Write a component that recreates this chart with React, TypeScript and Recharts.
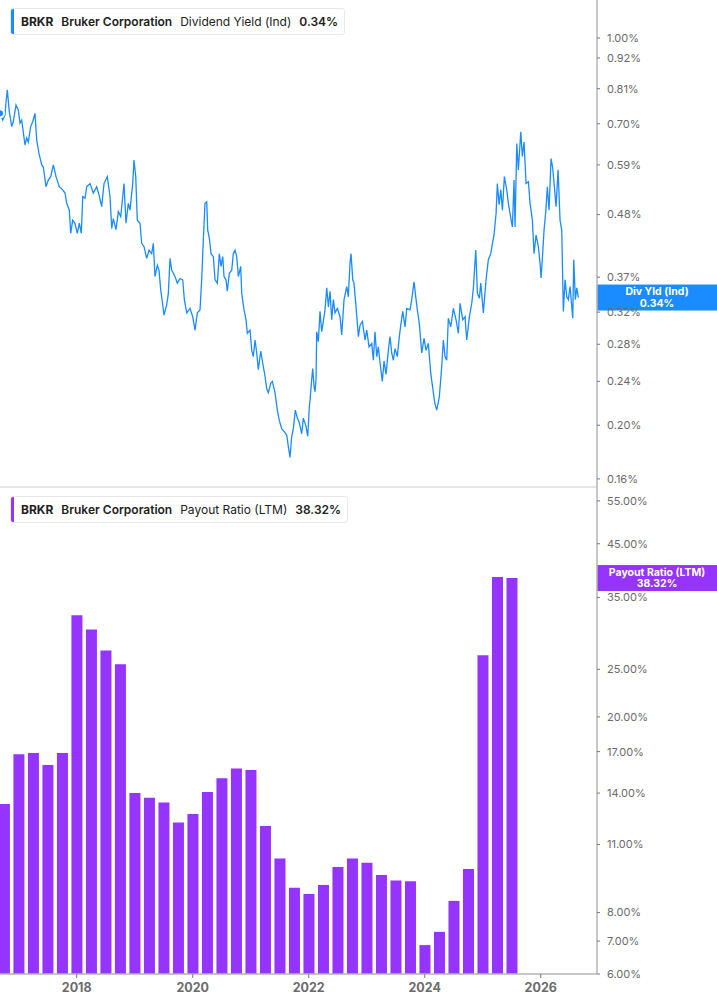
import React from 'react'
import { Bar, BarChart, Line, LineChart, ReferenceLine, XAxis, YAxis } from 'recharts'

const TICKER = 'BRKR'
const COMPANY = 'Bruker Corporation'
const YIELD_NAME = 'Dividend Yield (Ind)'
const YIELD_SHORT = 'Div Yld (Ind)'
const PAYOUT_NAME = 'Payout Ratio (LTM)'

const BLUE = '#1a8cff'
const PURPLE = '#9434fc'

// dividend yield (%) by decimal year
const yield2016to2019: [number, number][] = [
  [2016.678, 0.731], [2016.725, 0.711], [2016.764, 0.726], [2016.781, 0.763], [2016.804, 0.806], [2016.838, 0.736], [2016.88, 0.692], [2016.907, 0.706], [2016.954, 0.757], [2016.994, 0.741],
  [2017.023, 0.702], [2017.052, 0.711], [2017.109, 0.641], [2017.138, 0.66], [2017.166, 0.649], [2017.207, 0.692], [2017.242, 0.706], [2017.281, 0.731], [2017.311, 0.654], [2017.35, 0.619],
  [2017.397, 0.59], [2017.425, 0.585], [2017.471, 0.539], [2017.511, 0.554], [2017.552, 0.562], [2017.597, 0.59], [2017.644, 0.562], [2017.7, 0.539], [2017.759, 0.532], [2017.799, 0.525],
  [2017.828, 0.503], [2017.873, 0.489], [2017.897, 0.444], [2017.931, 0.469], [2017.971, 0.463], [2018.011, 0.444], [2018.045, 0.463], [2018.08, 0.444], [2018.104, 0.517], [2018.144, 0.514],
  [2018.173, 0.539], [2018.23, 0.546], [2018.287, 0.525], [2018.345, 0.539], [2018.385, 0.521], [2018.431, 0.496], [2018.471, 0.546], [2018.528, 0.562], [2018.575, 0.517], [2018.604, 0.453],
  [2018.631, 0.472], [2018.678, 0.451], [2018.718, 0.486], [2018.759, 0.476], [2018.794, 0.517], [2018.816, 0.546], [2018.85, 0.463], [2018.89, 0.503], [2018.919, 0.489], [2018.966, 0.546],
  [2018.988, 0.602], [2019.018, 0.562], [2019.045, 0.469], [2019.092, 0.463], [2019.121, 0.426], [2019.161, 0.42], [2019.207, 0.4], [2019.247, 0.414],
]

const yield2019to2022: [number, number][] = [
  [2019.293, 0.408], [2019.321, 0.426], [2019.35, 0.371], [2019.39, 0.389], [2019.419, 0.381], [2019.449, 0.351], [2019.483, 0.33], [2019.506, 0.316], [2019.552, 0.33], [2019.58, 0.346],
  [2019.609, 0.4], [2019.638, 0.381], [2019.695, 0.371], [2019.735, 0.361], [2019.781, 0.368], [2019.828, 0.366], [2019.856, 0.337], [2019.897, 0.319], [2019.954, 0.325], [2020.0, 0.314],
  [2020.04, 0.297], [2020.08, 0.319], [2020.126, 0.323], [2020.155, 0.366], [2020.183, 0.432], [2020.212, 0.503], [2020.242, 0.506], [2020.259, 0.45], [2020.287, 0.435], [2020.316, 0.408],
  [2020.356, 0.403], [2020.385, 0.366], [2020.425, 0.361], [2020.459, 0.408], [2020.488, 0.387], [2020.518, 0.403], [2020.54, 0.371], [2020.574, 0.366], [2020.597, 0.349], [2020.631, 0.376],
  [2020.673, 0.381], [2020.7, 0.408], [2020.73, 0.414], [2020.759, 0.403], [2020.787, 0.371], [2020.828, 0.387], [2020.845, 0.346], [2020.885, 0.323], [2020.919, 0.31], [2020.942, 0.293],
  [2020.988, 0.297], [2021.018, 0.273], [2021.045, 0.266], [2021.075, 0.285], [2021.104, 0.27], [2021.131, 0.252], [2021.173, 0.272], [2021.207, 0.259], [2021.247, 0.245], [2021.276, 0.233],
  [2021.304, 0.229], [2021.345, 0.238], [2021.373, 0.24], [2021.419, 0.229], [2021.459, 0.213], [2021.493, 0.204], [2021.535, 0.197], [2021.575, 0.195], [2021.621, 0.192], [2021.649, 0.183],
  [2021.678, 0.175], [2021.707, 0.191], [2021.735, 0.197], [2021.769, 0.213], [2021.804, 0.206], [2021.838, 0.202], [2021.88, 0.193], [2021.907, 0.206], [2021.954, 0.199], [2021.983, 0.191],
]

const yield2022to2024: [number, number][] = [
  [2022.011, 0.216], [2022.023, 0.222], [2022.052, 0.242], [2022.069, 0.253], [2022.092, 0.235], [2022.109, 0.23], [2022.126, 0.242], [2022.138, 0.295], [2022.166, 0.283], [2022.195, 0.321],
  [2022.224, 0.295], [2022.252, 0.308], [2022.281, 0.323], [2022.311, 0.354], [2022.339, 0.327], [2022.368, 0.349], [2022.397, 0.31], [2022.425, 0.337], [2022.454, 0.319], [2022.494, 0.325],
  [2022.54, 0.314], [2022.569, 0.291], [2022.609, 0.337], [2022.656, 0.356], [2022.683, 0.341], [2022.712, 0.392], [2022.73, 0.408], [2022.759, 0.366], [2022.781, 0.361], [2022.816, 0.327],
  [2022.856, 0.289], [2022.885, 0.303], [2022.925, 0.308], [2022.971, 0.285], [2023.0, 0.297], [2023.04, 0.277], [2023.087, 0.281], [2023.114, 0.262], [2023.143, 0.295], [2023.173, 0.266],
  [2023.2, 0.277], [2023.23, 0.259], [2023.269, 0.24], [2023.299, 0.261], [2023.333, 0.247], [2023.373, 0.273], [2023.402, 0.289], [2023.431, 0.27], [2023.459, 0.262], [2023.488, 0.275],
  [2023.528, 0.266], [2023.562, 0.289], [2023.587, 0.303], [2023.621, 0.321], [2023.661, 0.301], [2023.69, 0.325], [2023.747, 0.323], [2023.776, 0.337], [2023.816, 0.363], [2023.845, 0.341],
  [2023.873, 0.323], [2023.907, 0.305], [2023.949, 0.27], [2023.988, 0.287], [2024.023, 0.273], [2024.062, 0.281], [2024.104, 0.248], [2024.149, 0.229], [2024.178, 0.218], [2024.207, 0.213],
  [2024.252, 0.225], [2024.293, 0.255], [2024.321, 0.285], [2024.35, 0.266], [2024.379, 0.262], [2024.407, 0.312],
]

const yield2024to2026: [number, number][] = [
  [2024.449, 0.301], [2024.494, 0.325], [2024.54, 0.31], [2024.58, 0.293], [2024.609, 0.332], [2024.656, 0.31], [2024.695, 0.314], [2024.724, 0.285], [2024.77, 0.314], [2024.811, 0.332],
  [2024.839, 0.354], [2024.88, 0.414], [2024.908, 0.346], [2024.942, 0.339], [2024.966, 0.361], [2025.011, 0.319], [2025.057, 0.366], [2025.097, 0.398], [2025.138, 0.408], [2025.173, 0.429],
  [2025.195, 0.441], [2025.23, 0.482], [2025.252, 0.546], [2025.282, 0.5], [2025.311, 0.532], [2025.339, 0.489], [2025.373, 0.562], [2025.414, 0.532], [2025.442, 0.503], [2025.471, 0.482],
  [2025.511, 0.456], [2025.54, 0.554], [2025.557, 0.456], [2025.587, 0.645], [2025.614, 0.578], [2025.656, 0.677], [2025.683, 0.611], [2025.712, 0.649], [2025.747, 0.546], [2025.787, 0.55],
  [2025.816, 0.503], [2025.856, 0.469], [2025.885, 0.408], [2025.919, 0.441], [2025.959, 0.42], [2025.988, 0.392], [2026.006, 0.369], [2026.035, 0.411], [2026.057, 0.45], [2026.087, 0.486],
  [2026.114, 0.539], [2026.143, 0.489], [2026.178, 0.606], [2026.207, 0.582], [2026.235, 0.539], [2026.264, 0.496], [2026.299, 0.578], [2026.333, 0.469], [2026.362, 0.45], [2026.39, 0.321],
  [2026.419, 0.366], [2026.449, 0.341], [2026.476, 0.337], [2026.506, 0.356], [2026.535, 0.327], [2026.552, 0.312], [2026.569, 0.398], [2026.597, 0.337], [2026.621, 0.354], [2026.649, 0.34],
]

// payout ratio (%) by quarter end
const payoutQuarters = [
  2016.75, 2017.0, 2017.25, 2017.5, 2017.75, 2018.0, 2018.25, 2018.5, 2018.75,
  2019.0, 2019.25, 2019.5, 2019.75, 2020.0, 2020.25, 2020.5, 2020.75, 2021.0,
  2021.25, 2021.5, 2021.75, 2022.0, 2022.25, 2022.5, 2022.75, 2023.0, 2023.25,
  2023.5, 2023.75, 2024.0, 2024.25, 2024.5, 2024.75, 2025.0, 2025.25, 2025.5,
]
const payoutValues = [
  13.3, 16.8, 16.9, 15.97, 16.9, 32.2, 30.1, 27.3, 25.6,
  14.0, 13.7, 13.4, 12.2, 12.7, 14.07, 15.0, 15.7, 15.6,
  12.0, 10.3, 8.99, 8.73, 9.1, 9.9, 10.3, 10.1, 9.54,
  9.3, 9.26, 6.87, 7.31, 8.45, 9.81, 26.7, 38.5, 38.32,
]

const yieldTicks = [0.16, 0.2, 0.24, 0.28, 0.32, 0.37, 0.48, 0.59, 0.7, 0.81, 0.92, 1.0]
const payoutTicks = [6, 7, 8, 11, 14, 17, 20, 25, 35, 45, 55]
const yearTicks = [2018, 2020, 2022, 2024, 2026]

const X_DOMAIN: [number, number] = [2016.678, 2026.97]
const YIELD_DOMAIN: [number, number] = [0.1547, 1.171]
const PAYOUT_DOMAIN: [number, number] = [6, 58.7]

const yieldData = [...yield2016to2019, ...yield2019to2022, ...yield2022to2024, ...yield2024to2026].map(([t, v]) => ({ t, v }))
const payoutData = payoutQuarters.map((t, i) => ({ t, v: payoutValues[i] }))

const lastYield = yieldData[yieldData.length - 1].v
const lastPayout = payoutValues[payoutValues.length - 1]

const FONT = 'Inter, "Noto Sans", sans-serif'
const AXIS = '#b4b4b4'
const TICK_TEXT = '#6b6b6b'

const pct = (v: number) => `${v.toFixed(2)}%`

function ValueTag({ viewBox, color, title, value }: any) {
  const left = viewBox.x + viewBox.width
  const y = viewBox.y
  return (
    <g>
      <rect x={left} y={y - 13} width={120} height={26} fill={color} />
      <text x={left + 60} y={y - 2.5} textAnchor="middle" fill="#fff" fontSize={10.5} fontWeight={700} fontFamily={FONT}>
        {title}
      </text>
      <text x={left + 60} y={y + 9} textAnchor="middle" fill="#fff" fontSize={10.5} fontWeight={700} fontFamily={FONT}>
        {value}
      </text>
    </g>
  )
}

function LegendBox({ top, color, metric, value }: { top: number; color: string; metric: string; value: string }) {
  return (
    <div
      style={{
        position: 'absolute',
        left: 10,
        top,
        height: 25,
        display: 'flex',
        alignItems: 'center',
        background: '#fff',
        border: '1px solid #e8e8e8',
        borderRadius: 3,
        fontFamily: FONT,
        fontSize: 12,
        color: '#222',
        whiteSpace: 'nowrap',
        overflow: 'hidden',
      }}
    >
      <span style={{ width: 3, height: '100%', background: color }} />
      <span style={{ fontWeight: 700, marginLeft: 7 }}>{TICKER}</span>
      <span style={{ fontWeight: 600, marginLeft: 8 }}>{COMPANY}</span>
      <span style={{ fontWeight: 400, marginLeft: 8 }}>{metric}</span>
      <span style={{ fontWeight: 600, marginLeft: 8, marginRight: 6 }}>{value}</span>
    </div>
  )
}

export default function App() {
  return (
    <div style={{ position: 'relative', width: 717, height: 1005, background: '#fff', overflow: 'hidden' }}>
      <style>{'body{margin:0}'}</style>

      <div style={{ position: 'absolute', left: 0, top: 0 }}>
        <LineChart width={717} height={488} data={yieldData} margin={{ top: 0, right: 0, bottom: 0, left: 0 }}>
          <XAxis
            dataKey="t"
            type="number"
            domain={X_DOMAIN}
            allowDataOverflow
            height={1}
            tick={false}
            tickLine={false}
            axisLine={{ stroke: '#dcdcdc', strokeWidth: 1.5 }}
          />
          <YAxis
            orientation="right"
            width={120}
            type="number"
            scale="log"
            domain={YIELD_DOMAIN}
            allowDataOverflow
            ticks={yieldTicks}
            interval={0}
            tickFormatter={pct}
            axisLine={{ stroke: AXIS, strokeWidth: 1.5 }}
            tickLine={{ stroke: '#777' }}
            tickSize={3}
            tickMargin={7}
            tick={{ fill: TICK_TEXT, fontSize: 11, fontFamily: FONT }}
          />
          <Line
            type="linear"
            dataKey="v"
            stroke={BLUE}
            strokeWidth={1.3}
            dot={false}
            isAnimationActive={false}
          />
          <ReferenceLine
            y={lastYield}
            stroke="none"
            ifOverflow="visible"
            label={(p: any) => <ValueTag viewBox={p.viewBox} color={BLUE} title={YIELD_SHORT} value={pct(lastYield)} />}
          />
        </LineChart>
      </div>

      <div style={{ position: 'absolute', left: 0, top: 487 }}>
        <BarChart width={717} height={518} data={payoutData} margin={{ top: 0, right: 0, bottom: 0, left: 0 }}>
          <XAxis
            dataKey="t"
            type="number"
            domain={X_DOMAIN}
            allowDataOverflow
            ticks={yearTicks}
            interval={0}
            height={31}
            axisLine={{ stroke: AXIS, strokeWidth: 1.5 }}
            tickLine={{ stroke: '#777' }}
            tickSize={4}
            tickMargin={5}
            tick={{ fill: TICK_TEXT, fontSize: 12.5, fontWeight: 700, fontFamily: FONT }}
          />
          <YAxis
            orientation="right"
            width={120}
            type="number"
            scale="log"
            domain={PAYOUT_DOMAIN}
            allowDataOverflow
            ticks={payoutTicks}
            interval={0}
            tickFormatter={pct}
            axisLine={{ stroke: AXIS, strokeWidth: 1.5 }}
            tickLine={{ stroke: '#777' }}
            tickSize={3}
            tickMargin={7}
            tick={{ fill: TICK_TEXT, fontSize: 11, fontFamily: FONT }}
          />
          <Bar dataKey="v" fill={PURPLE} barSize={11} isAnimationActive={false} />
          <ReferenceLine
            y={lastPayout}
            stroke="none"
            ifOverflow="visible"
            label={(p: any) => <ValueTag viewBox={p.viewBox} color={PURPLE} title={PAYOUT_NAME} value={pct(lastPayout)} />}
          />
        </BarChart>
      </div>

      <LegendBox top={8} color={BLUE} metric={YIELD_NAME} value={pct(lastYield)} />
      <LegendBox top={496} color={PURPLE} metric={PAYOUT_NAME} value={pct(lastPayout)} />
    </div>
  )
}
